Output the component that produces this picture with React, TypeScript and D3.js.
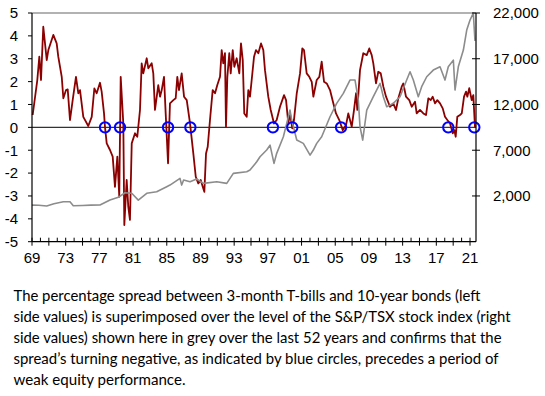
import * as d3 from "d3"

// spread between 3-month T-bills and 10-year bonds, % (left axis)
const spreadSeries: [number, number][] = [
  [1969.08, 0.54], [1969.63, 2.07], [1969.87, 3.09], [1970.07, 2.07], [1970.34, 4.4],
  [1970.75, 2.94], [1970.94, 3.38], [1971.53, 4.04], [1971.93, 3.67], [1972.12, 3.09],
  [1972.53, 2.21], [1972.72, 1.27], [1973.04, 1.63], [1973.24, 1.66], [1973.51, 0.32],
  [1973.83, 1.19], [1974.22, 2.21], [1974.5, 1.49], [1974.7, 1.63], [1975.09, 0.46],
  [1975.68, 0.06], [1976.09, 0.46], [1976.4, 1.7], [1976.68, 1.49], [1977.07, 1.95],
  [1977.27, 1.56], [1977.55, 0.61], [1977.67, 0.0], [1977.87, -0.7], [1978.26, -0.99],
  [1978.58, -1.28], [1978.85, -2.6], [1979.13, -1.28], [1979.36, -3.03], [1979.53, 2.21],
  [1979.84, 0.17], [1979.96, -4.27], [1980.24, -2.3], [1980.43, -3.47], [1980.63, -4.05],
  [1980.84, -0.7], [1981.23, -0.26], [1981.5, -0.41], [1981.82, 0.76], [1982.02, 2.8],
  [1982.21, 2.36], [1982.62, 3.02], [1982.81, 2.58], [1983.21, 2.8], [1983.4, 2.36],
  [1983.6, 0.76], [1983.99, 1.85], [1984.2, 1.34], [1984.4, 1.63], [1984.67, 2.21],
  [1984.87, 0.61], [1985.15, -1.57], [1985.38, 1.05], [1985.78, 1.19], [1986.06, 1.27],
  [1986.25, 2.21], [1986.45, 1.63], [1986.77, 2.36], [1987.05, 1.34], [1987.37, 1.19],
  [1987.76, 0.17], [1988.15, -1.14], [1988.44, -2.16], [1988.74, -2.45], [1989.03, -2.3],
  [1989.27, -2.6], [1989.46, -2.82], [1989.66, -1.14], [1989.86, -0.85], [1990.13, 0.32],
  [1990.45, 1.63], [1990.73, 1.49], [1991.0, 1.85], [1991.32, 2.21], [1991.52, 3.38],
  [1991.71, 2.8], [1991.91, 3.24], [1992.03, 0.03], [1992.19, 2.21], [1992.42, 3.24],
  [1992.59, 2.36], [1992.83, 3.38], [1993.02, 2.65], [1993.3, 3.02], [1993.61, 2.36],
  [1993.81, 3.67], [1994.02, 2.94], [1994.2, 0.61], [1994.49, 0.46], [1994.68, 1.63],
  [1994.88, 1.34], [1995.08, 2.07], [1995.36, 3.09], [1995.59, 3.38], [1995.87, 3.24],
  [1996.19, 3.67], [1996.46, 3.38], [1996.66, 2.5], [1997.05, 1.34], [1997.34, 0.76],
  [1997.73, 0.17], [1998.05, 0.32], [1998.44, 0.9], [1998.92, 1.41], [1999.16, 1.19],
  [1999.43, 0.17], [1999.63, 0.61], [1999.9, -0.04], [2000.1, 0.32], [2000.43, 1.49],
  [2000.82, 2.36], [2001.09, 3.45], [2001.29, 3.38], [2001.61, 2.36], [2001.92, 2.21],
  [2002.21, 1.99], [2002.4, 1.34], [2002.8, 2.07], [2003.11, 2.21], [2003.39, 2.87],
  [2003.67, 1.99], [2003.99, 1.92], [2004.38, 1.63], [2004.77, 1.05], [2005.09, 0.61],
  [2005.48, 0.32], [2005.89, -0.12], [2006.28, 0.1], [2006.55, 0.61], [2006.96, 0.03],
  [2007.23, 0.76], [2007.47, 1.49], [2007.62, 0.76], [2007.94, 2.5], [2008.33, 3.24],
  [2008.74, 3.16], [2009.04, 3.45], [2009.33, 3.16], [2009.52, 2.8], [2009.84, 1.92],
  [2010.11, 2.43], [2010.4, 2.36], [2010.71, 1.78], [2011.03, 1.34], [2011.5, 0.9],
  [2011.89, 1.05], [2012.21, 0.76], [2012.49, 1.27], [2012.89, 1.78], [2013.08, 1.92],
  [2013.4, 1.34], [2013.79, 1.19], [2014.08, 0.9], [2014.47, 1.12], [2014.67, 0.61],
  [2015.06, 0.76], [2015.46, 0.61], [2015.78, 0.54], [2016.05, 1.27], [2016.33, 1.19],
  [2016.57, 1.34], [2016.85, 1.05], [2017.12, 1.19], [2017.44, 1.05], [2017.76, 0.83],
  [2018.03, 0.46], [2018.31, 0.32], [2018.63, 0.17], [2018.95, -0.26], [2019.14, -0.12],
  [2019.3, -0.41], [2019.49, 0.46], [2019.81, 0.54], [2020.02, 0.61], [2020.29, 1.34],
  [2020.53, 1.56], [2020.68, 1.34], [2020.91, 1.71], [2021.2, 1.19], [2021.39, 1.41],
  [2021.59, 0.0],
]

// S&P/TSX index level (right axis)
const tsxSeries: [number, number][] = [
  [1969.0, 1000], [1969.8, 980], [1970.75, 900], [1971.6, 1150], [1972.72, 1370],
  [1973.51, 1370], [1973.9, 930], [1975.0, 960], [1976.0, 1000], [1977.07, 1006],
  [1978.26, 1550], [1979.25, 1850], [1980.04, 2350], [1980.84, 2290], [1981.62, 1550],
  [1982.62, 2290], [1983.8, 2460], [1984.99, 3010], [1985.38, 3190], [1986.57, 3920],
  [1986.77, 3190], [1987.0, 3740], [1987.76, 3550], [1988.55, 3850], [1989.34, 3380],
  [1990.93, 3550], [1992.12, 3380], [1992.9, 4470], [1994.49, 4650], [1994.88, 4830],
  [1995.68, 5740], [1996.07, 6290], [1996.86, 7020], [1997.26, 7550], [1997.73, 5560],
  [1998.05, 6660], [1998.84, 8470], [1999.24, 9940], [1999.63, 11390], [1999.83, 10300],
  [2000.43, 8110], [2001.21, 7750], [2002.01, 6470], [2002.4, 7020], [2002.8, 7750],
  [2003.39, 8470], [2004.38, 10660], [2005.17, 12120], [2005.96, 13220], [2006.75, 14670],
  [2007.35, 14670], [2007.74, 12480], [2007.94, 9570], [2008.26, 8110], [2008.74, 11390],
  [2009.52, 12850], [2010.32, 14310], [2010.71, 12850], [2011.11, 11750], [2011.89, 12120],
  [2012.69, 12850], [2013.48, 14670], [2013.88, 15580], [2014.27, 14670], [2014.86, 12850],
  [2015.26, 13940], [2015.86, 15030], [2016.64, 15760], [2017.44, 16120], [2018.03, 14670],
  [2018.42, 16120], [2019.02, 16850], [2019.22, 13580], [2019.61, 16120], [2020.21, 17950],
  [2020.61, 20140], [2021.0, 21230], [2021.39, 22000], [2021.59, 18950],
]

// where the spread turns negative
const circleYears = [1977.67, 1979.45, 1985.15, 1987.8, 1997.6, 1999.9, 2005.69, 2018.42, 2021.51]

const leftTicks = [5, 4, 3, 2, 1, 0, -1, -2, -3, -4, -5]
const rightTicks = [2000, 7000, 12000, 17000, 22000]
const yearLabels = [1969, 1973, 1977, 1981, 1985, 1989, 1993, 1997, 2001, 2005, 2009, 2013, 2017, 2021]

const captionLines = [
  "The percentage spread between 3-month T-bills and 10-year bonds (left",
  "side values) is superimposed over the level of the S&P/TSX stock index (right",
  "side values) shown here in grey over the last 52 years and confirms that the",
  "spread\u2019s turning negative, as indicated by blue circles, precedes a period of",
  "weak equity performance.",
]
const captionWidths = [467, 497, 488, 485, 172]

export default function App() {
  const width = 545
  const height = 396
  const left = 32
  const right = 476
  const top = 13
  const bottom = 241.7

  const x = d3.scaleLinear().domain([1969, 2021.71]).range([left, right])
  const yL = d3.scaleLinear().domain([-5, 5]).range([bottom, top])
  const yR = d3.scaleLinear().domain([-3000, 22000]).range([bottom, top])

  const spreadLine = d3
    .line<[number, number]>()
    .x((d) => x(d[0]))
    .y((d) => yL(d[1]))
  const tsxLine = d3
    .line<[number, number]>()
    .x((d) => x(d[0]))
    .y((d) => yR(d[1]))

  const years = d3.range(1969, 2022)
  const axisFont = "'Liberation Sans', Arial, sans-serif"

  return (
    <div style={{ position: "absolute", left: 0, top: 0 }}>
      <svg width={width} height={height} style={{ display: "block", background: "#fff" }}>
        {/* top border */}
        <line x1={left} x2={right} y1={top} y2={top} stroke="#999" strokeWidth={1.5} />

        {/* zero line */}
        <line x1={left} x2={right} y1={yL(0)} y2={yL(0)} stroke="#333" strokeWidth={1.2} />

        <path d={spreadLine(spreadSeries) ?? ""} fill="none" stroke="#8b0000" strokeWidth={1.8} strokeLinejoin="round" />
        <path d={tsxLine(tsxSeries) ?? ""} fill="none" stroke="#8c8c8c" strokeWidth={1.6} strokeLinejoin="round" />

        {circleYears.map((yr) => (
          <circle key={yr} cx={x(yr)} cy={yL(0)} r={5.2} fill="none" stroke="#0000ff" strokeWidth={2} />
        ))}

        {/* left axis */}
        <line x1={left} x2={left} y1={top} y2={bottom} stroke="#000" strokeWidth={1.2} />
        {leftTicks.map((v) => (
          <g key={v}>
            <line x1={left - 4} x2={left} y1={yL(v)} y2={yL(v)} stroke="#000" />
            <text x={18} y={yL(v)} dy="0.36em" textAnchor="end" fontFamily={axisFont} fontSize={15} fill="#000">
              {v}
            </text>
          </g>
        ))}

        {/* right axis */}
        <line x1={right} x2={right} y1={top} y2={bottom} stroke="#000" strokeWidth={1.2} />
        {rightTicks.map((v) => (
          <g key={v}>
            <line x1={right - 4} x2={right + 4} y1={yR(v)} y2={yR(v)} stroke="#000" />
            <text x={493} y={yR(v)} dy="0.36em" textAnchor="start" fontFamily={axisFont} fontSize={15} fill="#000">
              {d3.format(",")(v)}
            </text>
          </g>
        ))}

        {/* bottom axis */}
        <line x1={left} x2={right} y1={bottom} y2={bottom} stroke="#000" strokeWidth={1.2} />
        {years.map((yr) => (
          <line
            key={yr}
            x1={x(yr)}
            x2={x(yr)}
            y1={bottom - 4}
            y2={(yr - 1969) % 2 === 0 ? bottom + 4 : bottom}
            stroke="#000"
          />
        ))}
        {yearLabels.map((yr) => (
          <text key={yr} x={x(yr)} y={263} textAnchor="middle" fontFamily={axisFont} fontSize={15} fill="#000">
            {String(yr % 100).padStart(2, "0")}
          </text>
        ))}

        {/* caption */}
        {captionLines.map((line, i) => (
          <text
            key={i}
            x={13.5}
            y={301 + i * 21}
            fontFamily="Lato, 'Open Sans', sans-serif"
            fontSize={15}
            fill="#000"
            textLength={captionWidths[i]}
            lengthAdjust="spacingAndGlyphs"
          >
            {line}
          </text>
        ))}
      </svg>
    </div>
  )
}
